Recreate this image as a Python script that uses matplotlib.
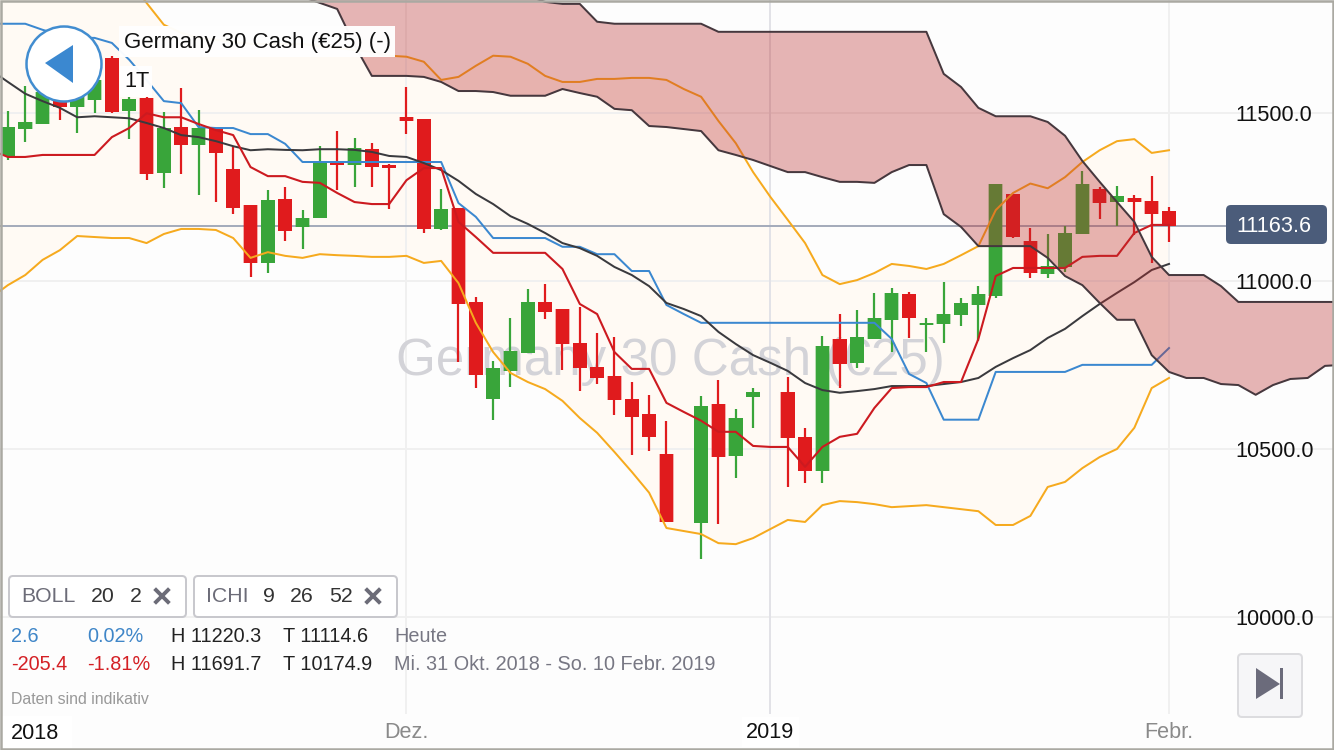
import matplotlib
matplotlib.use('Agg')
import matplotlib.pyplot as plt
from matplotlib.patches import Circle, FancyBboxPatch, Polygon, Rectangle

plt.rcParams['font.family'] = ['Liberation Sans', 'DejaVu Sans']

# candles, one per trading slot (slots 39 and 44 are the holidays)
no_trade = [39, 44]
opens = [11372, 11452, 11467, 11538, 11517, 11538, 11664, 11505, 11545, 11321, 11458, 11404, 11452, 11333, 11226,
         11054, 11244, 11161, 11187, 11351, 11345, 11392, 11345, 11487, 11482, 11155, 11217, 10938, 10650, 10733,
         10786, 10938, 10917, 10816, 10745, 10718, 10650, 10605, 10486, 10281, 10635, 10480, 10656, 10671, 10537,
         10436, 10828, 10757, 10828, 10885, 10962, 10870, 10873, 10899, 10929, 10956, 11259, 11119, 11021, 11042,
         11140, 11273, 11235, 11247, 11238, 11208]
closes = [11458, 11473, 11562, 11517, 11568, 11598, 11502, 11542, 11318, 11455, 11404, 11455, 11381, 11217, 11054,
          11241, 11149, 11187, 11354, 11345, 11395, 11339, 11336, 11476, 11155, 11214, 10932, 10721, 10742, 10792,
          10938, 10908, 10813, 10742, 10712, 10647, 10596, 10537, 10284, 10629, 10477, 10593, 10671, 10534, 10436,
          10807, 10754, 10834, 10890, 10965, 10890, 10876, 10902, 10935, 10962, 11290, 11131, 11024, 11045, 11143,
          11290, 11232, 11252, 11235, 11199, 11164]
highs = [11505, 11580, 11568, 11583, 11604, 11622, 11670, 11548, 11548, 11502, 11574, 11508, 11455, 11398, 11226,
         11270, 11279, 11211, 11401, 11446, 11425, 11410, 11348, 11577, 11482, 11273, 11217, 10953, 10763, 10890,
         10976, 10991, 10917, 10923, 10846, 10834, 10700, 10662, 10585, 10659, 10706, 10620, 10682, 10715, 10564,
         10837, 10902, 10914, 10965, 10979, 10968, 10890, 10997, 10950, 10985, 11290, 11259, 11158, 11140, 11164,
         11327, 11279, 11282, 11256, 11312, 11220]
lows = [11360, 11413, 11467, 11479, 11440, 11499, 11499, 11422, 11300, 11276, 11318, 11256, 11235, 11199, 11012,
        11024, 11119, 11095, 11187, 11270, 11279, 11279, 11214, 11437, 11143, 11152, 10760, 10682, 10588, 10685,
        10786, 10888, 10736, 10673, 10694, 10603, 10483, 10495, 10284, 10174, 10278, 10415, 10564, 10388, 10400,
        10400, 10682, 10742, 10828, 10789, 10831, 10789, 10816, 10867, 10822, 10950, 11128, 11009, 11009, 11027,
        11140, 11184, 11164, 11137, 11054, 11115]

# indicator lines, slots -1 to 67
boll_upper = [11955, 11955, 11955, 11955, 11955, 11955, 11940, 11925, 11895, 11827, 11762, 11738, 11723, 11717, 11711,
              11705, 11705, 11705, 11705, 11699, 11693, 11687, 11681, 11670, 11667, 11652, 11598, 11607, 11640, 11670,
              11667, 11646, 11610, 11592, 11592, 11601, 11601, 11604, 11604, 11598, 11571, 11548, 11476, 11410, 11324,
              11250, 11182, 11113, 11018, 10991, 11003, 11024, 11051, 11045, 11036, 11051, 11077, 11104, 11211, 11262,
              11290, 11276, 11309, 11354, 11389, 11416, 11422, 11381, 11389]
boll_lower = [10950, 10988, 11018, 11063, 11092, 11134, 11131, 11128, 11128, 11113, 11140, 11155, 11155, 11152, 11128,
              11069, 11086, 11075, 11069, 11080, 11077, 11075, 11072, 11072, 11075, 11054, 11060, 10994, 10876, 10789,
              10727, 10700, 10679, 10644, 10593, 10549, 10492, 10433, 10371, 10266, 10257, 10248, 10221, 10218, 10236,
              10263, 10290, 10284, 10334, 10346, 10343, 10337, 10328, 10331, 10334, 10328, 10322, 10316, 10275, 10275,
              10302, 10388, 10403, 10444, 10477, 10501, 10564, 10682, 10712]
boll_mid = [11628, 11592, 11557, 11535, 11515, 11487, 11490, 11487, 11484, 11470, 11455, 11434, 11428, 11416, 11401,
            11389, 11392, 11390, 11389, 11392, 11392, 11390, 11384, 11372, 11369, 11351, 11330, 11298, 11259, 11229,
            11193, 11170, 11143, 11113, 11098, 11075, 11042, 11018, 10985, 10935, 10917, 10896, 10849, 10813, 10780,
            10757, 10733, 10697, 10676, 10668, 10673, 10679, 10688, 10688, 10688, 10694, 10700, 10712, 10745, 10771,
            10795, 10831, 10858, 10896, 10932, 10965, 10997, 11033, 11051]
kijun = [11765, 11765, 11765, 11747, 11732, 11723, 11723, 11708, 11658, 11598, 11535, 11529, 11458, 11455, 11455,
         11437, 11437, 11408, 11354, 11354, 11354, 11354, 11354, 11354, 11354, 11354, 11354, 11232, 11191, 11128,
         11128, 11128, 11128, 11102, 11102, 11080, 11080, 11030, 11030, 10929, 10902, 10876, 10876, 10876, 10876,
         10876, 10876, 10876, 10876, 10876, 10876, 10876, 10828, 10724, 10697, 10588, 10588, 10588, 10730, 10730,
         10730, 10730, 10730, 10751, 10751, 10751, 10751, 10751, 10801]
tenkan = [11390, 11369, 11369, 11375, 11375, 11375, 11375, 11428, 11455, 11499, 11487, 11487, 11467, 11449, 11434,
          11339, 11312, 11312, 11295, 11292, 11262, 11235, 11229, 11229, 11300, 11336, 11336, 11176, 11131, 11084,
          11084, 11084, 11084, 11036, 10932, 10902, 10789, 10739, 10739, 10638, 10611, 10585, 10552, 10552, 10510,
          10507, 10507, 10448, 10507, 10537, 10546, 10623, 10682, 10685, 10685, 10700, 10700, 10828, 11015, 11039,
          11039, 11039, 11039, 11072, 11075, 11075, 11143, 11167, 11167]

# cloud edges, slots 16 to 77
span_top = [11895] * 13 + [11872, 11848, 11830, 11824, 11824, 11771] + [11765] * 6 + [11741] * 13 + \
           [11616, 11577, 11515, 11490, 11490, 11490, 11473, 11432, 11357, 11295, 11235, 11176, 11072, 11018, 11018,
            11018, 10985] + [10938] * 7
span_bottom = [11866, 11845, 11827, 11809, 11702, 11610, 11610, 11610, 11607, 11592, 11565, 11565, 11562, 11551, 11551,
               11551, 11571, 11559, 11548, 11512, 11508, 11461, 11458, 11452, 11446, 11389, 11375, 11360, 11342, 11324,
               11324, 11309, 11295, 11295, 11292, 11324, 11345, 11345, 11199, 11161, 11104, 11104, 11104, 11104, 11069,
               11015, 10988, 10935, 10885, 10885, 10780, 10730, 10712, 10712, 10694, 10691, 10662, 10691, 10709, 10712,
               10748, 10751]

y_ticks = [10000, 10500, 11000, 11500]
y_labels = ['10000.0', '10500.0', '11000.0', '11500.0']
x_ticks = [23, 44, 67]
x_labels = ['Dez.', '2019', 'Febr.']
last_price = 11163.6

GREEN = '#39a53a'
RED = '#e01b1d'
ORANGE = '#f6aa1e'
BLUE = '#3b88d0'
DARK = '#3a3a3e'
LINE_RED = '#cc1a20'
GRID = '#f0f0f0'
TEXT_GRAY = '#6c6c78'

fig = plt.figure(figsize=(13.34, 7.5), dpi=100, facecolor='#fdfdfd')
ax = fig.add_axes([0, 0, 1, 1])
ax.set_facecolor('#fdfdfd')
ax.set_xlim(-0.456, 76.52)
ax.set_ylim(9606.1, 11835.6)
for spine in ax.spines.values():
    spine.set_visible(False)

trade_slots = [s for s in range(68) if s not in no_trade]
line_slots = list(range(-1, 68))
cloud_slots = list(range(16, 78))

# background: band fill, grid, watermark
ax.fill_between(line_slots, boll_lower, boll_upper, color='#fffaf4', lw=0, zorder=0.2)
ax.set_axisbelow(True)
ax.grid(axis='y', color=GRID, lw=1.44)
ax.yaxis.tick_right()
ax.set_yticks(y_ticks, y_labels)
ax.tick_params(axis='y', length=0, pad=-71, labelsize=15.6, labelcolor='#111111')
ax.set_xticks(x_ticks, x_labels)
ax.tick_params(axis='x', length=0, pad=-20.5, labelsize=15.6, labelcolor='#8a8a8a')
ax.get_xticklabels()[1].set_color('#111111')
ax.get_xticklabels()[1].set_bbox(dict(facecolor='white', edgecolor='none', pad=3))

ax.vlines([23, 67], 9713, 11835.6, color=GRID, lw=1.44, zorder=0.6)
ax.vlines(44, 9713, 11835.6, color='#e2e2e7', lw=1.44, zorder=0.6)
ax.text(22.4, 10761, 'Germany 30 Cash (€25)', fontsize=36.8, color='#d3d3d8', ha='left', va='center', zorder=0.7)
ax.axhline(last_price, xmax=1226 / 1334, color='#a5acbb', lw=1.44, zorder=1)

# candles, bodies get a faint lighter rim like the original
colors = [GREEN if c >= o else RED for o, c in zip(opens, closes)]
bottoms = [min(o, c) for o, c in zip(opens, closes)]
heights = [abs(c - o) for o, c in zip(opens, closes)]
ax.vlines(trade_slots, lows, highs, colors=colors, lw=1.6, zorder=2)
ax.bar(trade_slots, heights, bottom=bottoms, width=0.84, color=colors, alpha=0.35, lw=0, zorder=2)
ax.bar(trade_slots, heights, bottom=bottoms, width=0.78, color=colors, lw=0, zorder=2)

# indicators
ax.plot(line_slots, boll_upper, color=ORANGE, lw=1.44, zorder=3)
ax.plot(line_slots, boll_lower, color=ORANGE, lw=1.44, zorder=3)
ax.plot(line_slots, kijun, color=BLUE, lw=1.44, zorder=3)
ax.plot(line_slots, boll_mid, color=DARK, lw=1.44, zorder=3)
ax.plot(line_slots, tenkan, color=LINE_RED, lw=1.5, zorder=3)

# cloud goes over the candles and tints them
ax.fill_between(cloud_slots, span_bottom, span_top, color='#bb2c2c', alpha=0.35, lw=0, zorder=4)
ax.plot(cloud_slots, span_top, color='#46383e', lw=1.44, zorder=5)
ax.plot(cloud_slots, span_bottom, color='#46383e', lw=1.44, zorder=5)

# app controls sit on an overlay measured in screen pixels
ui = fig.add_axes([0, 0, 1, 1], zorder=10)
ui.set_xlim(0, 1334)
ui.set_ylim(750, 0)
ui.axis('off')


def chip(x0, y0, x1, y1, face='white', edge='#c8c8cd'):
    ui.add_patch(FancyBboxPatch((x0 + 3, y0 + 3), x1 - x0 - 6, y1 - y0 - 6, boxstyle='round,pad=3,rounding_size=4',
                                fc=face, ec=edge, lw=1.44))


def close_icon(cx, cy):
    ui.plot([cx - 6, cx + 6], [cy - 6, cy + 6], color=TEXT_GRAY, lw=2.8)
    ui.plot([cx - 6, cx + 6], [cy + 6, cy - 6], color=TEXT_GRAY, lw=2.8)


def label(x, y, s, color='#222222', size=14.3, ha='left'):
    ui.text(x, y, s, color=color, fontsize=size, ha=ha, va='center')


# back button and titles
ui.add_patch(Rectangle((119, 26), 276, 31, fc='white', ec='none', alpha=0.97))
ui.add_patch(Rectangle((120, 66), 32, 31, fc='white', ec='none', alpha=0.97))
label(124, 42.5, 'Germany 30 Cash (€25) (-)', '#111111', 16)
label(124, 81.5, '1T', '#111111', 15.6)
ui.add_patch(Circle((64, 64), 37.5, fc='white', ec='#428dd0', lw=1.8))
ui.add_patch(Polygon([(45, 63), (73, 45), (73, 83)], fc=BLUE, ec='none'))

# indicator chips
chip(9, 576, 186, 617)
chip(194, 576, 397, 617)
label(21, 597, 'BOLL', TEXT_GRAY, 15.3)
label(91, 597, '20', '#333333', 15.3)
label(130, 597, '2', '#333333', 15.3)
close_icon(162, 596)
label(206, 597, 'ICHI', TEXT_GRAY, 15.3)
label(263, 597, '9', '#333333', 15.3)
label(290, 597, '26', '#333333', 15.3)
label(329, 597, '52', '#333333', 15.3)
close_icon(373, 596)

# stats rows
label(11, 637, '2.6', '#3f86c8')
label(87, 637, '0.02%', '#3f86c8')
label(171, 637, 'H 11220.3')
label(283, 637, 'T 11114.6')
label(394, 637, 'Heute', '#777783')
label(11, 665, '-205.4', '#d42025')
label(87, 665, '-1.81%', '#d42025')
label(171, 665, 'H 11691.7')
label(283, 665, 'T 10174.9')
label(394, 665, 'Mi. 31 Okt. 2018 - So. 10 Febr. 2019', '#777783')
label(11, 700, 'Daten sind indikativ', '#999999', 11.4)

ui.add_patch(Rectangle((2, 716), 70, 32, fc='white', ec='none'))
label(11, 733.5, '2018', '#111111', 15.6)

# price tag
ui.add_patch(FancyBboxPatch((1230, 209), 93, 31, boxstyle='round,pad=4,rounding_size=5', fc='#4b5c7a', ec='none'))
label(1236, 226, '11163.6', 'white', 15.6)

# jump to latest button
chip(1238, 654, 1302, 717, '#f6f6f8', '#dcdcdf')
ui.add_patch(Polygon([(1256, 668), (1256, 699), (1280, 684)], fc='#6b6b7b', ec='none'))
ui.add_patch(Rectangle((1280, 668), 2.5, 31, fc='#6b6b7b', ec='none'))

# screenshot frame
ui.add_patch(Rectangle((0.8, 0.8), 1332, 748, fc='none', ec='#aaa9a2', lw=1.8))

fig.savefig('out.png', dpi=100)
